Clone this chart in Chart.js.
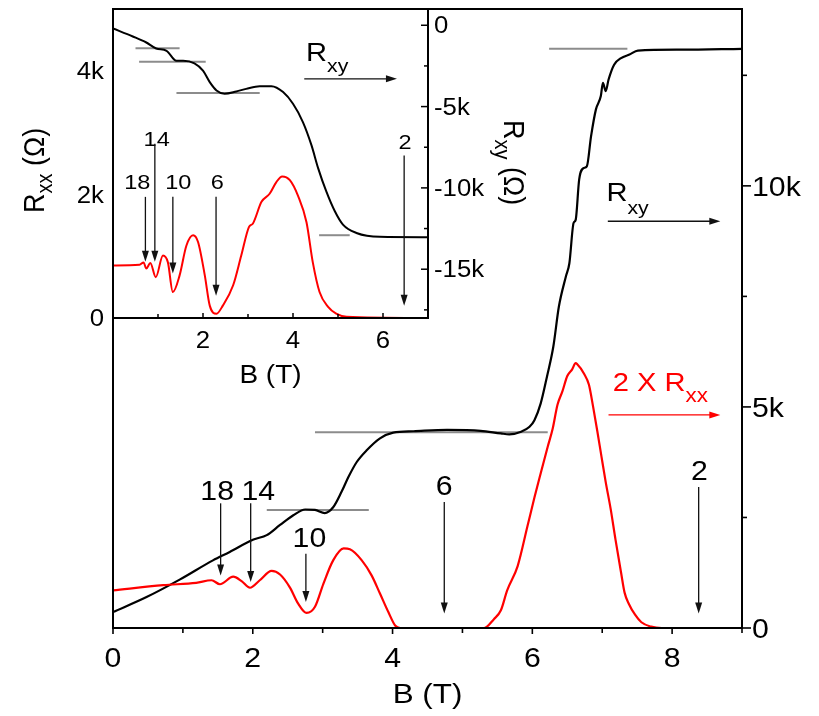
<!DOCTYPE html>
<html>
<head>
<meta charset="utf-8">
<script src="https://cdn.jsdelivr.net/npm/chart.js@4.4.0/dist/chart.umd.min.js"></script>
<style>
html,body{margin:0;background:#fff}
#wrap{position:relative;width:819px;height:716px;overflow:hidden}
canvas{position:absolute;left:0;top:0}
</style>
</head>
<body>
<div id="wrap">
 <canvas id="main" width="819" height="716"></canvas>
 <canvas id="inset" width="819" height="716"></canvas>
</div>
<script>
// main panel, B in T, resistance in kOhm
const mainRxyB=[0,0.48,0.96,1.43,1.67,2.01,2.2,2.39,2.58,2.75,2.89,3.03,3.15,3.27,3.37,3.49,3.63,3.82,4.01,4.3,4.78,5.26,5.55,5.67,5.84,5.96,6.03,6.12,6.21,6.3,6.38,6.48,6.53,6.59,6.62,6.67,6.73,6.78,6.84,6.91,6.98,7.01,7.05,7.09,7.17,7.27,7.39,7.51,8.13,9];
const mainRxy=[0.36,0.7,1.1,1.53,1.72,2.0,2.1,2.33,2.55,2.68,2.67,2.6,2.73,3.08,3.42,3.76,4.02,4.29,4.42,4.45,4.48,4.46,4.4,4.38,4.44,4.55,4.7,5.08,5.69,6.36,7.27,7.95,8.25,9.16,9.23,10.14,10.4,10.44,11.12,11.73,12.03,12.33,12.14,12.4,12.74,12.89,12.97,13.06,13.08,13.1];
const mainRxxB=[0,0.72,1.19,1.41,1.53,1.72,1.84,1.96,2.1,2.27,2.39,2.53,2.65,2.77,2.89,3.01,3.15,3.3,3.39,3.56,3.7,3.82,3.94,4.04,4.11,5.31,5.45,5.55,5.64,5.79,5.93,6.03,6.12,6.22,6.29,6.36,6.43,6.5,6.57,6.62,6.64,6.74,6.81,6.87,6.93,6.99,7.05,7.12,7.19,7.27,7.32,7.38,7.47,7.56,7.7,7.85,9];
const mainRxx2=[0.85,0.97,1.02,1.08,0.99,1.16,1.06,0.91,1.08,1.29,1.21,0.92,0.55,0.34,0.48,1.0,1.53,1.8,1.78,1.53,1.19,0.78,0.36,0.05,0,0,0.2,0.4,0.85,1.4,2.3,2.95,3.5,4.1,4.5,5.05,5.35,5.7,5.85,5.99,5.97,5.75,5.5,5.0,4.45,3.87,3.3,2.7,2.0,1.25,0.8,0.55,0.3,0.13,0.03,0,0];
const mainPlateauB0=[2.2,2.89,6.24];
const mainPlateauB1=[3.66,6.22,7.36];
const mainPlateauV=[2.67,4.43,13.1];

// inset panel
const insetRxyB=[0,0.44,0.74,0.96,1.19,1.41,1.56,1.81,2.0,2.15,2.3,2.48,2.74,2.96,3.26,3.52,3.78,4.0,4.22,4.41,4.56,4.74,4.93,5.11,5.41,5.93,7];
const insetRxy=[-0.2,-0.69,-1.06,-1.43,-1.57,-2.18,-2.18,-2.34,-2.79,-3.5,-4.01,-4.21,-4.07,-3.91,-3.75,-3.75,-4.11,-4.83,-5.95,-7.37,-8.8,-10.22,-11.44,-12.26,-12.77,-13.01,-13.03];
const insetRxxB=[0,0.59,0.68,0.74,0.83,0.95,1.11,1.22,1.33,1.48,1.63,1.78,1.89,2.04,2.15,2.3,2.44,2.67,2.85,3.02,3.11,3.3,3.48,3.63,3.76,3.93,4.11,4.3,4.44,4.59,4.78,4.96,5.19,7];
const insetRxx=[0.85,0.86,0.9,0.8,0.89,0.66,1.01,0.9,0.42,0.69,1.17,1.34,1.23,0.69,0.2,0.07,0.2,0.53,1.01,1.47,1.53,1.88,2.01,2.2,2.29,2.23,1.98,1.55,0.9,0.42,0.18,0.07,0.02,0];
const insetPlateauB0=[0.5,0.58,1.41,4.58];
const insetPlateauB1=[1.48,2.06,3.26,5.26];
const insetPlateauR=[-1.42,-2.24,-4.17,-12.91];

// ticks
const mainXTicks=[0,1,2,3,4,5,6,7,8,9];
const mainXLabels=['0','','2','','4','','6','','8',''];
const mainYTicks=[0,2.5,5,7.5,10,12.5];
const mainYLabels=['0','','5k','','10k',''];
const insetXTicks=[1,2,3,4,5,6];
const insetXLabels=['','2','','4','','6'];
const insetLTicks=[0,2,4];
const insetLLabels=['0','2k','4k'];
const insetRTicks=[0,-2.5,-5,-7.5,-10,-12.5,-15,-17.5];
const insetRLabels=['0','','-5k','','-10k','','-15k',''];

// filling factor arrows: label, label B, label height, arrow B, arrow top, arrow tip
const mainMarks=[['18',1.49,3.11,1.54,2.82,1.19],['14',2.08,3.11,1.97,2.82,1.04],['10',2.81,2.06,2.76,1.68,0.59],['6',4.74,3.22,4.74,2.85,0.33],['2',8.39,3.56,8.38,3.19,0.33]];
const insetMarks=[['18',0.54,2.21,0.72,1.96,0.91],['14',0.97,2.9,0.93,2.82,0.91],['10',1.45,2.21,1.33,1.96,0.72],['6',2.32,2.21,2.29,1.96,0.36],['2',6.49,2.85,6.47,2.63,0.2]];

const FONT='"Liberation Sans", Arial, sans-serif';
const SX=1.12;

function pts(xs,ys){return xs.map((x,i)=>({x:x,y:ys[i]}));}
function plateaus(b0,b1,v,axis){
 return b0.map((b,i)=>({data:[{x:b,y:v[i]},{x:b1[i],y:v[i]}],borderColor:'#8c8c8c',borderWidth:2,pointRadius:0,order:5,yAxisID:axis}));
}
function seg(ctx,x0,y0,x1,y1,w,c){ctx.save();ctx.strokeStyle=c||'#000';ctx.lineWidth=w;ctx.beginPath();ctx.moveTo(x0,y0);ctx.lineTo(x1,y1);ctx.stroke();ctx.restore();}
function txt(ctx,s,x,y,size,align,color){
 ctx.save();ctx.translate(x,y);ctx.scale(SX,1);
 ctx.font=size+'px '+FONT;ctx.textAlign=align||'left';ctx.textBaseline='alphabetic';ctx.fillStyle=color||'#000';
 ctx.fillText(s,0,0);ctx.restore();
}
// text with subscript, origin at left baseline in current transform
function subText(ctx,pre,sub,post,size,subSize,drop,color){
 ctx.fillStyle=color||'#000';ctx.textAlign='left';ctx.textBaseline='alphabetic';
 ctx.font=size+'px '+FONT;ctx.fillText(pre,0,0);let w=ctx.measureText(pre).width;
 ctx.font=subSize+'px '+FONT;ctx.fillText(sub,w,drop);w+=ctx.measureText(sub).width;
 if(post){ctx.font=size+'px '+FONT;ctx.fillText(post,w,0);}
}
function vArrow(ctx,x,y0,y1,c){
 seg(ctx,x,y0,x,y1-9,1.3,c);
 ctx.save();ctx.fillStyle=c||'#000';ctx.beginPath();ctx.moveTo(x,y1);ctx.lineTo(x-3.5,y1-11);ctx.lineTo(x+3.5,y1-11);ctx.closePath();ctx.fill();ctx.restore();
}
function hArrow(ctx,x0,x1,y,c){
 seg(ctx,x0,y,x1-9,y,1.3,c);
 ctx.save();ctx.fillStyle=c||'#000';ctx.beginPath();ctx.moveTo(x1,y);ctx.lineTo(x1-11,y-3.5);ctx.lineTo(x1-11,y+3.5);ctx.closePath();ctx.fill();ctx.restore();
}

const mainDeco={id:'mainDeco',afterDraw(chart){
 const ctx=chart.ctx,a=chart.chartArea,x=chart.scales.x,y=chart.scales.y;
 ctx.save();ctx.strokeStyle='#000';ctx.lineWidth=2;ctx.strokeRect(a.left,a.top,a.right-a.left,a.bottom-a.top);ctx.restore();
 mainXTicks.forEach((b,i)=>{
  const px=x.getPixelForValue(b);
  seg(ctx,px,a.bottom,px,a.bottom+(b%2===0?6:5),1.6);
  if(mainXLabels[i]) txt(ctx,mainXLabels[i],px,a.bottom+39,27,'center');
 });
 mainYTicks.forEach((v,i)=>{
  const py=y.getPixelForValue(v);
  seg(ctx,a.right,py,a.right+(v%5===0?9:5),py,1.6);
  if(mainYLabels[i]) txt(ctx,mainYLabels[i],a.right+10,py+9.7,27,'left');
 });
 txt(ctx,'B (T)',(a.left+a.right)/2,703,28,'center');
 mainMarks.forEach(m=>{
  txt(ctx,m[0],x.getPixelForValue(m[1]),y.getPixelForValue(m[2])+9.7,27,'center');
  vArrow(ctx,x.getPixelForValue(m[3]),y.getPixelForValue(m[4]),y.getPixelForValue(m[5]),'#111');
 });
 ctx.save();ctx.translate(x.getPixelForValue(7.06),y.getPixelForValue(9.86)+9.3);ctx.scale(SX,1);
 subText(ctx,'R','xy','',26,19,13,'#000');ctx.restore();
 hArrow(ctx,x.getPixelForValue(7.08),x.getPixelForValue(8.69),y.getPixelForValue(9.2),'#111');
 ctx.save();ctx.translate(x.getPixelForValue(7.15),y.getPixelForValue(5.57)+9.5);ctx.scale(SX,1);
 subText(ctx,'2 X R','xx','',26,20,11,'#ff0000');ctx.restore();
 hArrow(ctx,x.getPixelForValue(7.09),x.getPixelForValue(8.69),y.getPixelForValue(4.82),'#ff0000');
}};

const insetDeco={id:'insetDeco',afterDraw(chart){
 const ctx=chart.ctx,a=chart.chartArea,x=chart.scales.x,yl=chart.scales.yL,yr=chart.scales.yR;
 ctx.save();ctx.strokeStyle='#000';ctx.lineWidth=2;ctx.strokeRect(a.left,a.top,a.right-a.left,a.bottom-a.top);ctx.restore();
 insetXTicks.forEach((b,i)=>{
  const px=x.getPixelForValue(b);
  seg(ctx,px,a.bottom,px,a.bottom-(b%2===0?5:4),1.5);
  if(insetXLabels[i]) txt(ctx,insetXLabels[i],px,a.bottom+30,23,'center');
 });
 insetLTicks.forEach((v,i)=>txt(ctx,insetLLabels[i],a.left-9,yl.getPixelForValue(v)+8.2,23,'right'));
 insetRTicks.forEach((v,i)=>{
  const py=yr.getPixelForValue(v);
  seg(ctx,a.right,py,a.right-(v%5===0?7:4),py,1.5);
  if(insetRLabels[i]) txt(ctx,insetRLabels[i],a.right+6,py+8.2,23,'left');
 });
 txt(ctx,'B (T)',(a.left+a.right)/2,383,25,'center');
 ctx.save();ctx.translate(43.5,213);ctx.scale(SX,1);ctx.rotate(-Math.PI/2);
 subText(ctx,'R','xx',' (Ω)',27,20,8,'#000');ctx.restore();
 ctx.save();ctx.translate(503.5,120);ctx.scale(SX,1);ctx.rotate(Math.PI/2);
 subText(ctx,'R','xy',' (Ω)',27,20,8,'#000');ctx.restore();
 insetMarks.forEach(m=>{
  txt(ctx,m[0],x.getPixelForValue(m[1]),yl.getPixelForValue(m[2])+7.5,21,'center');
  vArrow(ctx,x.getPixelForValue(m[3]),yl.getPixelForValue(m[4]),yl.getPixelForValue(m[5]),'#111');
 });
 ctx.save();ctx.translate(x.getPixelForValue(4.29),yl.getPixelForValue(4.3)+9.2);ctx.scale(SX,1);
 subText(ctx,'R','xy','',26,19,11,'#000');ctx.restore();
 hArrow(ctx,x.getPixelForValue(4.25),x.getPixelForValue(6.31),yl.getPixelForValue(3.87),'#111');
}};

const common={responsive:false,animation:false,devicePixelRatio:1,events:[],
 plugins:{legend:{display:false},tooltip:{enabled:false}},
 elements:{line:{cubicInterpolationMode:'monotone',borderJoinStyle:'round'},point:{radius:0}}};

new Chart(document.getElementById('main'),{
 type:'line',
 data:{datasets:[
  {data:pts(mainRxyB,mainRxy),borderColor:'#000',borderWidth:2.2,order:1},
  {data:pts(mainRxxB,mainRxx2),borderColor:'#ff0000',borderWidth:2.2,order:0}
 ].concat(plateaus(mainPlateauB0,mainPlateauB1,mainPlateauV,'y'))},
 options:Object.assign({},common,{
  layout:{padding:{left:113,top:9,right:77,bottom:88}},
  scales:{x:{type:'linear',min:0,max:9,display:false},y:{type:'linear',min:0,max:14,display:false}}
 }),
 plugins:[mainDeco]
});

new Chart(document.getElementById('inset'),{
 type:'line',
 data:{datasets:[
  {data:pts(insetRxyB,insetRxy),borderColor:'#000',borderWidth:2,yAxisID:'yR',order:1},
  {data:pts(insetRxxB,insetRxx),borderColor:'#ff0000',borderWidth:2,yAxisID:'yL',order:0}
 ].concat(plateaus(insetPlateauB0,insetPlateauB1,insetPlateauR,'yR'))},
 options:Object.assign({},common,{
  layout:{padding:{left:113,top:9,right:391,bottom:398}},
  scales:{x:{type:'linear',min:0,max:7,display:false},
   yL:{type:'linear',position:'left',min:0,max:5,display:false},
   yR:{type:'linear',position:'right',min:-18,max:1,display:false}}
 }),
 plugins:[insetDeco]
});
</script>
</body>
</html>
